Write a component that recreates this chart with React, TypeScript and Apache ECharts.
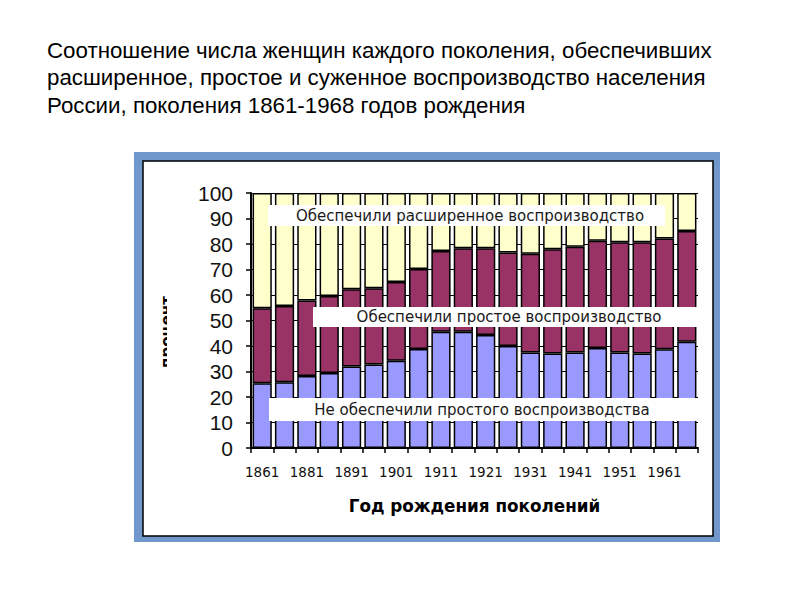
import React, { useEffect, useRef } from "react";
import * as echarts from "echarts";

const titleLines = [
  "Соотношение числа женщин каждого поколения, обеспечивших",
  "расширенное, простое и суженное воспроизводство населения",
  "России, поколения 1861-1968 годов рождения",
];

const categories = [
  "1861", "1871", "1881", "1886", "1891", "1896", "1901", "1906", "1911", "1916",
  "1921", "1926", "1931", "1936", "1941", "1946", "1951", "1956", "1961", "1966",
];

// Не обеспечили простого воспроизводства
const notSimple = [25.4, 25.8, 28.2, 29.4, 32.0, 32.7, 34.2, 38.8, 45.6, 45.6, 44.3, 40.0, 37.5, 37.1, 37.5, 39.2, 37.5, 37.1, 38.7, 41.7];
// Обеспечили простое воспроизводство
const simple = [29.4, 29.9, 29.6, 30.2, 30.3, 29.9, 30.9, 31.4, 31.7, 32.7, 34.0, 36.7, 38.7, 40.8, 41.4, 42.1, 43.2, 43.6, 43.5, 43.4];
// Обеспечили расширенное воспроизводство
const extended = [45.2, 44.3, 42.2, 40.4, 37.7, 37.4, 34.9, 29.8, 22.7, 21.7, 21.7, 23.3, 23.8, 22.1, 21.1, 18.7, 19.3, 19.3, 17.8, 14.9];

const seriesNames = [
  "Не обеспечили простого воспроизводства",
  "Обеспечили простое воспроизводство",
  "Обеспечили расширенное воспроизводство",
];

const yTicks = { min: 0, max: 100, interval: 10 };

export default function App() {
  const ref = useRef<HTMLDivElement>(null);
  useEffect(() => {
    if (!ref.current) return;
    const chart = echarts.init(ref.current, null, { renderer: "svg" });
    const barStyle = (color: string) => ({
      color,
      borderColor: "#000",
      borderWidth: 1.5,
    });
    const labelBox = (x: number, y: number, w: number, h: number, text: string, cx: number) => [
      { type: "rect", z: 100, shape: { x, y, width: w, height: h }, style: { fill: "#fff" } },
      {
        type: "text",
        z: 101,
        x: cx,
        y: y + h / 2,
        style: {
          text,
          fill: "#1a1a1a",
          font: "15px 'DejaVu Sans'",
          align: "center",
          verticalAlign: "middle",
        },
      },
    ];
    chart.setOption({
      animation: false,
      backgroundColor: "#fff",
      grid: { left: 251, top: 193, width: 447, height: 255, containLabel: false },
      xAxis: {
        type: "category",
        data: categories,
        boundaryGap: true,
        axisLine: { lineStyle: { color: "#000", width: 2 } },
        axisTick: { show: true, length: 5, interval: 0, lineStyle: { color: "#000", width: 1.5 } },
        axisLabel: {
          interval: 1,
          color: "#111",
          fontFamily: "DejaVu Sans",
          fontSize: 13.5,
          margin: 17,
        },
        name: "Год рождения поколений",
        nameLocation: "middle",
        nameGap: 49,
        nameTextStyle: { fontFamily: "DejaVu Sans", fontWeight: "bold", fontSize: 16.8, color: "#000" },
      },
      yAxis: {
        type: "value",
        min: yTicks.min,
        max: yTicks.max,
        interval: yTicks.interval,
        axisLine: { show: true, lineStyle: { color: "#000", width: 2 } },
        axisTick: { show: true, length: 5, lineStyle: { color: "#000", width: 1.5 } },
        axisLabel: {
          color: "#111",
          fontFamily: "Liberation Sans, Arial, sans-serif",
          fontSize: 21,
          margin: 18,
        },
        splitLine: { show: true, lineStyle: { color: "#000", width: 1 } },
      },
      series: [
        { name: seriesNames[0], type: "bar", stack: "all", data: notSimple, barCategoryGap: "14%", itemStyle: barStyle("#9999FF") },
        { name: seriesNames[1], type: "bar", stack: "all", data: simple, barCategoryGap: "14%", itemStyle: barStyle("#993366") },
        { name: seriesNames[2], type: "bar", stack: "all", data: extended, barCategoryGap: "14%", itemStyle: barStyle("#FFFFCC") },
      ],
      graphic: [
        // frame
        { type: "rect", z: -10, shape: { x: 134, y: 152, width: 586, height: 390 }, style: { fill: "#7198CC" } },
        { type: "rect", z: -9, shape: { x: 143, y: 161, width: 570, height: 375 }, style: { fill: "#fff", stroke: "#000", lineWidth: 1.5 } },
        // title
        ...titleLines.map((t, i) => ({
          type: "text",
          z: 50,
          x: 47,
          y: 50 + i * 27.5,
          style: { text: t, fill: "#000", font: "22.3px 'Liberation Sans'", align: "left", verticalAlign: "middle" },
        })),
        // y-axis title (partly hidden)
        {
          type: "text",
          z: 50,
          x: 167,
          y: 332,
          rotation: Math.PI / 2,
          style: { text: "процент", fill: "#000", font: "bold 15px 'DejaVu Sans'", align: "center", verticalAlign: "middle" },
        },
        { type: "rect", z: 51, shape: { x: 167, y: 280, width: 20, height: 105 }, style: { fill: "#fff" } },
        // label boxes
        ...labelBox(268, 205, 397, 21, seriesNames[2], 470),
        ...labelBox(313, 307, 385, 20, seriesNames[1], 509),
        ...labelBox(269, 398, 429, 23, seriesNames[0], 482),
      ],
    });
    return () => chart.dispose();
  }, []);
  return <div ref={ref} style={{ position: "fixed", left: 0, top: 0, width: 800, height: 600 }} />;
}
